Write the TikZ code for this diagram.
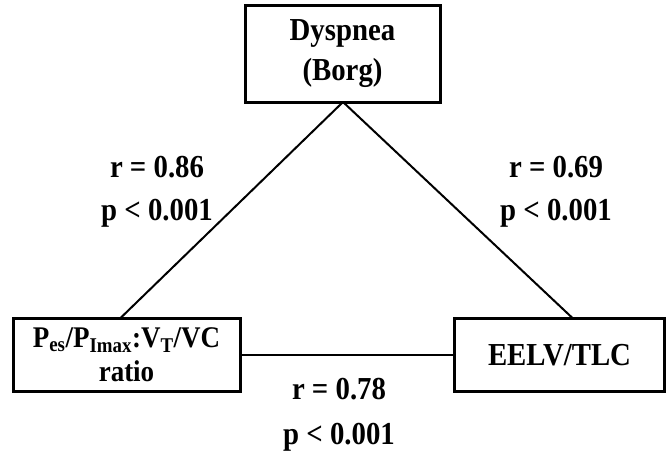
\documentclass[tikz,border=0pt]{standalone}
\usepackage{fontspec}
\setmainfont[FakeStretch=0.9]{Liberation Serif}
\begin{document}
\begin{tikzpicture}[x=1pt,y=-1pt,
  box/.style={draw, line width=3pt, minimum width=#1, inner sep=0pt, align=center, font=\fontsize{32}{40}\selectfont\bfseries},
  lbl/.style={font=\fontsize{32}{34}\selectfont\bfseries, inner sep=0pt},
  conn/.style={line width=2pt}]
\useasboundingbox (0,0) rectangle (668,453);
\node[box=195pt, minimum height=97pt] (dys) at (342.5,53.5) {Dyspnea\\(Borg)};
\node[box=227pt, minimum height=73pt, font=\fontsize{30}{34}\selectfont\bfseries] (pes) at (126.5,355) {P\textsubscript{es}/P\textsubscript{Imax}:V\textsubscript{T}/VC\\ratio};
\node[box=210pt, minimum height=73pt] (eelv) at (559.5,355) {EELV/TLC};
\coordinate (top) at (343,102);
\draw[conn] (top) -- (120,318.5);
\draw[conn] (top) -- (573,318.5);
\draw[conn] (pes.east) -- (eelv.west);
\node[lbl] (r1) at (157,167) {r = 0.86};
\node[lbl] (p1) at (157,213) {p < 0.001};
\node[lbl] (r2) at (556,167) {r = 0.69};
\node[lbl] (p2) at (556,213) {p < 0.001};
\node[lbl] (r3) at (339,389) {r = 0.78};
\node[lbl] (p3) at (339,437) {p < 0.001};
\end{tikzpicture}
\end{document}
